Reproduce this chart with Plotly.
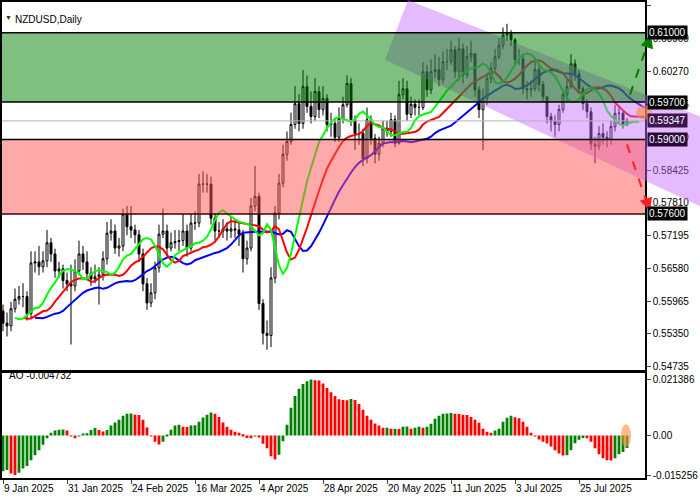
import numpy as np
import pandas as pd
import plotly.graph_objects as go

# daily bars, index 0 = 9 Jan 2025
closes = [.5555, .5550, .5582, .5600, .5605, .5605, .5573, .5668, .5670, .5661,
          .5672, .5706, .5685, .5653, .5657, .5635, .5629, .5625, .5653, .5685,
          .5670, .5648, .5638, .5642, .5646, .5676, .5724, .5728, .5696, .5700,
          .5760, .5736, .5730, .5721, .5685, .5629, .5593, .5612, .5659, .5722,
          .5728, .5696, .5706, .5708, .5710, .5728, .5696, .5743, .5743, .5816,
          .5816, .5816, .5752, .5728, .5728, .5732, .5728, .5732, .5730, .5722,
          .5676, .5696, .5775, .5793, .5592, .5536, .5532, .5640, .5762, .5818,
          .5872, .5896, .5928, .5967, .5930, .5999, .5962, .5943, .5990, .5956,
          .5977, .5928, .5930, .5904, .5939, .5965, .6005, .5937, .5911, .5911,
          .5864, .5937, .5902, .5872, .5893, .5921, .5915, .5937, .5893, .5984,
          .5995, .5947, .5966, .5960, .5960, .6027, .5993, .6027, .6031, .6012,
          .6046, .6046, .6068, .6027, .6070, .6021, .6055, .6061, .5993, .5956,
          .5977, .6014, .6033, .6055, .6076, .6096, .6098, .6087, .6050, .6051,
          .5995, .5993, .5995, .6031, .6003, .5980, .5943, .5934, .5928, .5956,
          .5984, .5999, .6042, .6023, .5995, .5967, .5952, .5891, .5887, .5911,
          .5904, .5900, .5924, .5949, .5949, .5928, .5935]
first_open = .5578
highs = [.5590, .5575, .5595, .5620, .5625, .5630, .5615, .5690, .5690, .5700,
         .5690, .5730, .5715, .5695, .5670, .5665, .5650, .5665, .5675, .5710,
         .5700, .5690, .5660, .5665, .5660, .5690, .5745, .5750, .5740, .5715,
         .5770, .5775, .5775, .5740, .5730, .5695, .5640, .5630, .5670, .5740,
         .5770, .5740, .5725, .5730, .5730, .5760, .5740, .5760, .5765, .5835,
         .5840, .5835, .5830, .5760, .5745, .5750, .5745, .5755, .5750, .5745,
         .5730, .5710, .5790, .5850, .5800, .5600, .5560, .5660, .5775, .5835,
         .5890, .5915, .5950, .6000, .5985, .6030, .6020, .5990, .6015, .6000,
         .6000, .5985, .5950, .5940, .5960, .5980, .6020, .6015, .5945, .5930,
         .5920, .5960, .5945, .5910, .5905, .5935, .5935, .5950, .5945, .6010,
         .6015, .6010, .5980, .5975, .5975, .6045, .6040, .6050, .6060, .6055,
         .6065, .6070, .6085, .6075, .6090, .6080, .6075, .6085, .6060, .6000,
         .5995, .6025, .6045, .6070, .6090, .6110, .6117, .6105, .6090, .6070,
         .6060, .6010, .6010, .6045, .6040, .6010, .5980, .5950, .5945, .5965,
         .5995, .6015, .6060, .6050, .6030, .6000, .5975, .5960, .5905, .5925,
         .5930, .5915, .5935, .5965, .5960, .5955, .5940]
lows = [.5540, .5530, .5540, .5575, .5590, .5585, .5560, .5565, .5650, .5645,
        .5650, .5660, .5670, .5640, .5640, .5620, .5615, .5515, .5615, .5645,
        .5655, .5635, .5625, .5630, .5590, .5635, .5665, .5710, .5685, .5680,
        .5690, .5720, .5715, .5705, .5670, .5615, .5580, .5585, .5600, .5650,
        .5715, .5680, .5690, .5695, .5690, .5700, .5680, .5690, .5730, .5735,
        .5800, .5800, .5740, .5710, .5715, .5715, .5710, .5715, .5715, .5700,
        .5650, .5665, .5690, .5765, .5580, .5515, .5505, .5510, .5630, .5750,
        .5810, .5860, .5890, .5920, .5915, .5920, .5950, .5930, .5935, .5940,
        .5945, .5915, .5905, .5895, .5895, .5930, .5960, .5925, .5880, .5890,
        .5850, .5855, .5890, .5855, .5860, .5885, .5905, .5905, .5885, .5890,
        .5975, .5935, .5940, .5945, .5945, .5955, .5980, .5985, .6015, .6000,
        .6005, .6030, .6040, .6015, .6010, .6005, .6015, .6045, .5980, .5940,
        .5880, .5965, .6005, .6025, .6050, .6070, .6085, .6075, .6040, .6040,
        .5985, .5975, .5980, .5990, .5990, .5970, .5930, .5915, .5905, .5915,
        .5950, .5970, .5995, .6010, .5985, .5955, .5940, .5880, .5855, .5880,
        .5890, .5885, .5890, .5915, .5930, .5920, .5925]
ao_values = [-.0135, -.0131, -.0144, -.0150, -.0141, -.0125, -.0115, -.0094, -.0075, -.0056,
             -.0035, -.0010, .0011, .0019, .0022, .0023, .0019, -.0003, -.0010, -.0003,
             .0008, .0009, .0021, .0029, .0021, .0016, .0021, .0038, .0050, .0060,
             .0075, .0083, .0084, .0079, .0078, .0060, .0031, -.0003, -.0023, -.0034,
             -.0023, .0003, .0022, .0038, .0041, .0034, .0033, .0038, .0039, .0053,
             .0069, .0079, .0088, .0083, .0071, .0050, .0034, .0022, .0015, .0011,
             .0005, -.0009, -.0010, -.0003, -.0006, -.0031, -.0048, -.0078, -.0091, -.0073,
             -.0021, .0041, .0106, .0150, .0178, .0196, .0206, .0213, .0210, .0209,
             .0198, .0181, .0165, .0150, .0138, .0135, .0134, .0139, .0135, .0120,
             .0098, .0075, .0060, .0046, .0038, .0030, .0030, .0026, .0026, .0025,
             .0034, .0035, .0026, .0030, .0034, .0030, .0034, .0045, .0064, .0075,
             .0083, .0084, .0086, .0083, .0082, .0079, .0078, .0071, .0060, .0049,
             .0026, .0015, .0011, .0019, .0026, .0053, .0068, .0075, .0070, .0066,
             .0053, .0034, .0011, -.0002, -.0015, -.0023, -.0030, -.0041, -.0056, -.0068,
             -.0076, -.0075, -.0056, -.0029, -.0016, -.0009, -.0010, -.0023, -.0048, -.0071,
             -.0086, -.0094, -.0095, -.0086, -.0071, -.0062, -.0047]
date_labels = ["9 Jan 2025", "31 Jan 2025", "24 Feb 2025", "16 Mar 2025", "4 Apr 2025",
               "28 Apr 2025", "20 May 2025", "11 Jun 2025", "3 Jul 2025", "25 Jul 2025"]
date_index = [0, 16, 32, 48, 64, 80, 96, 112, 128, 144]
price_ticks = [0.61515, 0.60900, 0.60270, 0.59655, 0.59040, 0.58425, 0.57810,
               0.57195, 0.56580, 0.55965, 0.55350, 0.54735]
levels = [0.6100, 0.5970, 0.5900, 0.5760]
current = 0.59347

W, H = 700, 500
L, R, B = 2, 55, 22
PW, PH = W - L - R, H - B


def px(x):
    return (x - L) / PW


def py(y):
    return (PH - y) / PH


idx = np.arange(len(closes))
c = pd.Series(closes)
opens = pd.concat([pd.Series([first_open]), c.shift(1).iloc[1:]]).values
median = (pd.Series(highs) + pd.Series(lows)) / 2

# alligator lines (smoothed MAs, shifted forward)
def smma(n, shift):
    s = median.ewm(alpha=1 / n, adjust=False).mean()
    return idx + shift, s.values

ao = np.array(ao_values)
ao_col = ['#008000' if i == 0 or ao[i] >= ao[i - 1] else '#ff0000' for i in range(len(ao))]

fig = go.Figure()
fig.add_trace(go.Candlestick(
    x=idx, open=opens, high=highs, low=lows, close=closes,
    increasing=dict(fillcolor='white', line=dict(color='black', width=1)),
    decreasing=dict(fillcolor='black', line=dict(color='black', width=1)),
    whiskerwidth=0, showlegend=False, xaxis='x', yaxis='y'))
for n, sh, col in [(13, 8, '#0000ff'), (8, 5, '#ff0000'), (5, 3, '#00ff00')]:
    xx, yy = smma(n, sh)
    fig.add_trace(go.Scatter(x=xx, y=yy, mode='lines', line=dict(color=col, width=2),
                             showlegend=False, xaxis='x', yaxis='y'))
fig.add_trace(go.Bar(x=idx, y=ao, marker_color=ao_col, marker_line_width=0, width=0.7,
                     showlegend=False, xaxis='x2', yaxis='y2'))

shapes = [
    dict(type='path', xref='paper', yref='paper', layer='above', line_width=0,
         fillcolor='rgba(195,105,255,0.45)',
         path=f"M {px(408)},{py(-2)} L {px(700)},{py(115)} L {px(700)},{py(205)} "
              f"L {px(385)},{py(58)} Z"),
    dict(type='rect', xref='paper', yref='y', x0=0, x1=1, y0=levels[1], y1=levels[0],
         fillcolor='rgba(0,128,0,0.5)', line_width=0, layer='above'),
    dict(type='rect', xref='paper', yref='y', x0=0, x1=1, y0=levels[3], y1=levels[2],
         fillcolor='rgba(255,85,85,0.5)', line_width=0, layer='above'),
    dict(type='line', xref='paper', yref='y', x0=0, x1=1, y0=current, y1=current,
         line=dict(color='#b4b4b4', width=1), layer='above'),
]
for lv, col in zip(levels, ['black', 'black', 'black', '#400000']):
    shapes.append(dict(type='line', xref='paper', yref='y', x0=0, x1=1, y0=lv, y1=lv,
                       line=dict(color=col, width=1.5), layer='above'))
shapes += [
    dict(type='line', xref='paper', yref='paper', x0=px(630), y0=py(93), x1=px(649), y1=py(38),
         line=dict(color='#008000', width=2, dash='dash'), layer='above'),
    dict(type='line', xref='paper', yref='paper', x0=px(627), y0=py(143), x1=px(648), y1=py(205),
         line=dict(color='#ff2020', width=2, dash='dash'), layer='above'),
    dict(type='circle', xref='paper', yref='paper', x0=px(636), x1=px(652), y0=py(118), y1=py(104),
         fillcolor='rgba(255,140,60,0.6)', line_width=0, layer='above'),
    dict(type='circle', xref='paper', yref='paper', x0=px(621), x1=px(631), y0=py(447), y1=py(424),
         fillcolor='rgba(255,140,60,0.6)', line_width=0, layer='above'),
]

font = dict(family='Liberation Sans, Arial', size=10, color='black')
ann = [
    dict(xref='paper', yref='paper', x=px(651), y=py(33), ax=-4, ay=12, text='', showarrow=True,
         arrowhead=2, arrowsize=1.3, arrowwidth=2, arrowcolor='#008000'),
    dict(xref='paper', yref='paper', x=px(650), y=py(210), ax=-4, ay=-12, text='', showarrow=True,
         arrowhead=2, arrowsize=1.3, arrowwidth=2, arrowcolor='#ff2020'),
    dict(xref='paper', yref='paper', x=px(3), y=py(10), text='▼', showarrow=False,
         xanchor='left', font=dict(size=7, color='#333')),
    dict(xref='paper', yref='paper', x=px(13), y=py(10), text='NZDUSD,Daily', showarrow=False,
         xanchor='left', font=font),
    dict(xref='paper', yref='paper', x=px(7), y=py(383), text='AO -0.004732', showarrow=False,
         xanchor='left', font=font),
]
for lv, txt, bg in [(levels[0], '0.61000', 'black'), (levels[1], '0.59700', 'black'),
                    (current, '0.59347', '#3c1450'), (levels[2], '0.59000', '#2a0a3a'),
                    (levels[3], '0.57600', 'black')]:
    ann.append(dict(xref='paper', yref='y', x=1, y=lv, text=txt, showarrow=False, xanchor='left',
                    xshift=2, bgcolor=bg, borderpad=1, font=dict(family=font['family'], size=10,
                                                                 color='white')))
for i, lab in zip(date_index, date_labels):
    ann.append(dict(xref='x2', yref='paper', x=i - 0.2, y=0, yshift=-3, text=lab, showarrow=False,
                    xanchor='left', yanchor='top', font=font))

xr = [-0.25, 160.5]
axis_common = dict(showline=True, mirror=True, linecolor='black', linewidth=1.5,
                   showgrid=False, zeroline=False)
fig.update_layout(
    width=W, height=H, margin=dict(l=L, r=R, t=0, b=B),
    paper_bgcolor='white', plot_bgcolor='white', font=font,
    shapes=shapes, annotations=ann, bargap=0.3,
    xaxis=dict(range=xr, domain=[0, 1], anchor='y', showticklabels=False, ticks='',
               rangeslider=dict(visible=False), **axis_common),
    xaxis2=dict(range=xr, domain=[0, 1], anchor='y2', showticklabels=False, ticks='outside',
                ticklen=4, tickvals=date_index, **axis_common),
    yaxis=dict(domain=[py(370), 1], range=[0.54663, 0.61579], side='right', anchor='x',
               tickvals=price_ticks, ticktext=[f'{v:.5f}' for v in price_ticks],
               ticks='outside', ticklen=4, tickfont=font, **axis_common),
    yaxis2=dict(domain=[0, py(373)], range=[-0.0161, 0.0236], side='right', anchor='x2',
                tickvals=[0.021386, 0, -0.015256], ticktext=['0.021386', '0.00', '-0.015256'],
                ticks='outside', ticklen=4, tickfont=font, **axis_common),
)

fig.write_html("out.html", config={'displayModeBar': False},
               post_script="document.body.style.margin='0';document.body.style.overflow='hidden';")
